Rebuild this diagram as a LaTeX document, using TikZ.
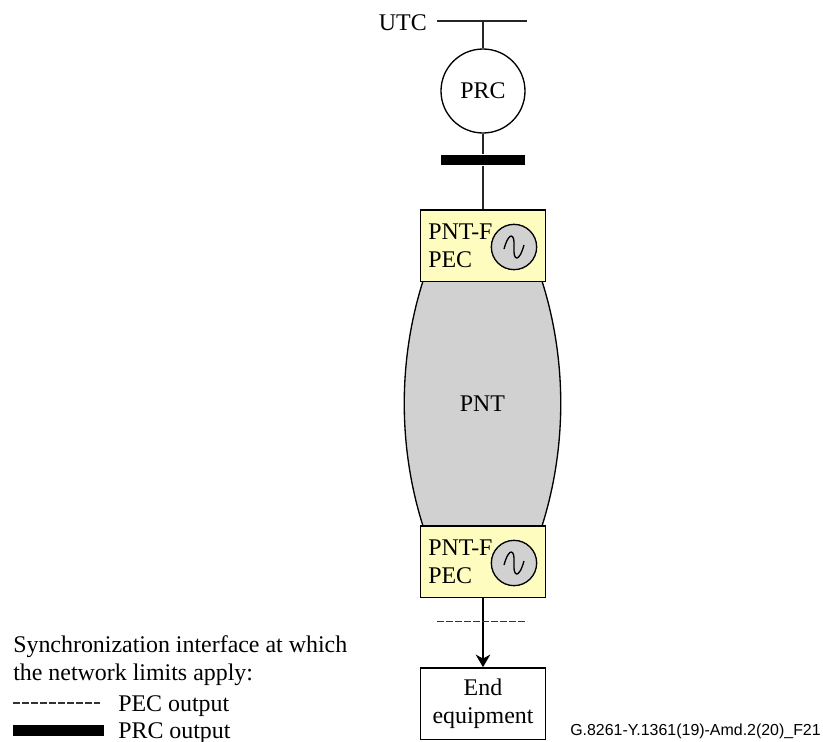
\documentclass[tikz,border=0pt]{standalone}
\usepackage{fontspec}
\setmainfont{Liberation Serif}
\setsansfont{Liberation Sans}
\usetikzlibrary{calc,arrows.meta}
\tikzset{>=stealth}
\tikzset{
    lbl/.style={inner sep=0pt, font=\fontsize{18}{21}\selectfont},
    pecbox/.style={draw, line width=1pt, fill=yellow!25!white, minimum width=94bp, minimum height=53.5bp, inner sep=0pt},
    osc/.style={draw, line width=1pt, circle, fill=black!18, minimum size=34bp, inner sep=0pt},
    wire/.style={draw, line width=1pt, black!85},
    sigdash/.style={draw, line width=0.9pt, black!80, dash pattern=on 5.2bp off 1.55bp},
}
\begin{document}
\begin{tikzpicture}[x=0.75bp, y=-0.75bp]
    \useasboundingbox (0,0) rectangle (823,742);
    % lens behind the boxes
    \coordinate (tl) at (423,281);
    \coordinate (tr) at (542,281);
    \coordinate (bl) at (423,526);
    \coordinate (br) at (542,526);
    \draw[line width=1pt, fill=black!18] (tl) .. controls (398,360) and (398,447) .. (bl) -- (br)
        .. controls (567,447) and (567,360) .. (tr) -- cycle;
    \node[lbl] (pnt) at (482.5,404) {PNT};
    % top part
    \node[lbl, anchor=east] (utc) at (427,23) {UTC};
    \coordinate (utcl) at (437,21);
    \coordinate (utcr) at (527,21);
    \coordinate (utcm) at (483,21);
    \draw[wire] (utcl) -- (utcr);
    \node[draw, line width=1pt, circle, minimum size=63bp, inner sep=0pt, font=\fontsize{18}{21}\selectfont] (prc) at (483,91) {PRC};
    \draw[wire] (utcm) -- (prc);
    \node[pecbox] (pect) at (483,245.5) {};
    \node[fill=black, minimum width=62.5bp, minimum height=8bp, inner sep=0pt] (prcbar) at (483,160) {};
    \draw[wire] (prc) -- (prcbar);
    \draw[wire] (prcbar) -- (pect);
    \node[lbl, anchor=west, align=left] (pectxt) at (428,246) {PNT-F\\PEC};
    \node[osc] (osct) at (514,247) {};
    % bottom part
    \node[pecbox] (pecb) at (483,561.5) {};
    \node[lbl, anchor=west, align=left] (pecbtxt) at (428,562) {PNT-F\\PEC};
    \node[osc] (oscb) at (514,563) {};
    \draw[line width=1pt] ($(osct)+(-10,2)$) .. controls ($(osct)+(-5,-16)$) and ($(osct)+(1,-14)$) .. ($(osct)+(0,0)$)
        .. controls ($(osct)+(-1,14)$) and ($(osct)+(5,16)$) .. ($(osct)+(10,-2)$);
    \draw[line width=1pt] ($(oscb)+(-10,2)$) .. controls ($(oscb)+(-5,-16)$) and ($(oscb)+(1,-14)$) .. ($(oscb)+(0,0)$)
        .. controls ($(oscb)+(-1,14)$) and ($(oscb)+(5,16)$) .. ($(oscb)+(10,-2)$);
    \node[draw, line width=1pt, minimum width=94bp, minimum height=53.5bp, inner sep=0pt, align=center, font=\fontsize{18}{21}\selectfont] (endeq) at (483,703.5) {End\\equipment};
    \draw[line width=1pt, ->, >={Stealth[length=9.5bp,width=11bp]}] (pecb) -- (endeq);
    \coordinate (pecl) at (437,621.5);
    \coordinate (pecr) at (527,621.5);
    \draw[sigdash] (pecl) -- (pecr);
    % key
    \node[lbl, anchor=west] (key1) at (13,647) {Synchronization interface at which};
    \node[lbl, anchor=west] (key2) at (13,675) {the network limits apply:};
    \coordinate (dashl) at (13,703);
    \coordinate (dashr) at (100,703);
    \draw[sigdash] (dashl) -- (dashr);
    \node[lbl, anchor=west] (key3) at (118,706) {PEC output};
    \node[fill=black, minimum width=68bp, minimum height=8bp, inner sep=0pt, anchor=west] (keybar) at (13,730.5) {};
    \node[lbl, anchor=west] (key4) at (118,733) {PRC output};
    \node[anchor=east, inner sep=0pt, font=\sffamily\fontsize{12}{14}\selectfont] (figid) at (821,731) {G.8261-Y.1361(19)-Amd.2(20)\_F21};
\end{tikzpicture}
\end{document}
